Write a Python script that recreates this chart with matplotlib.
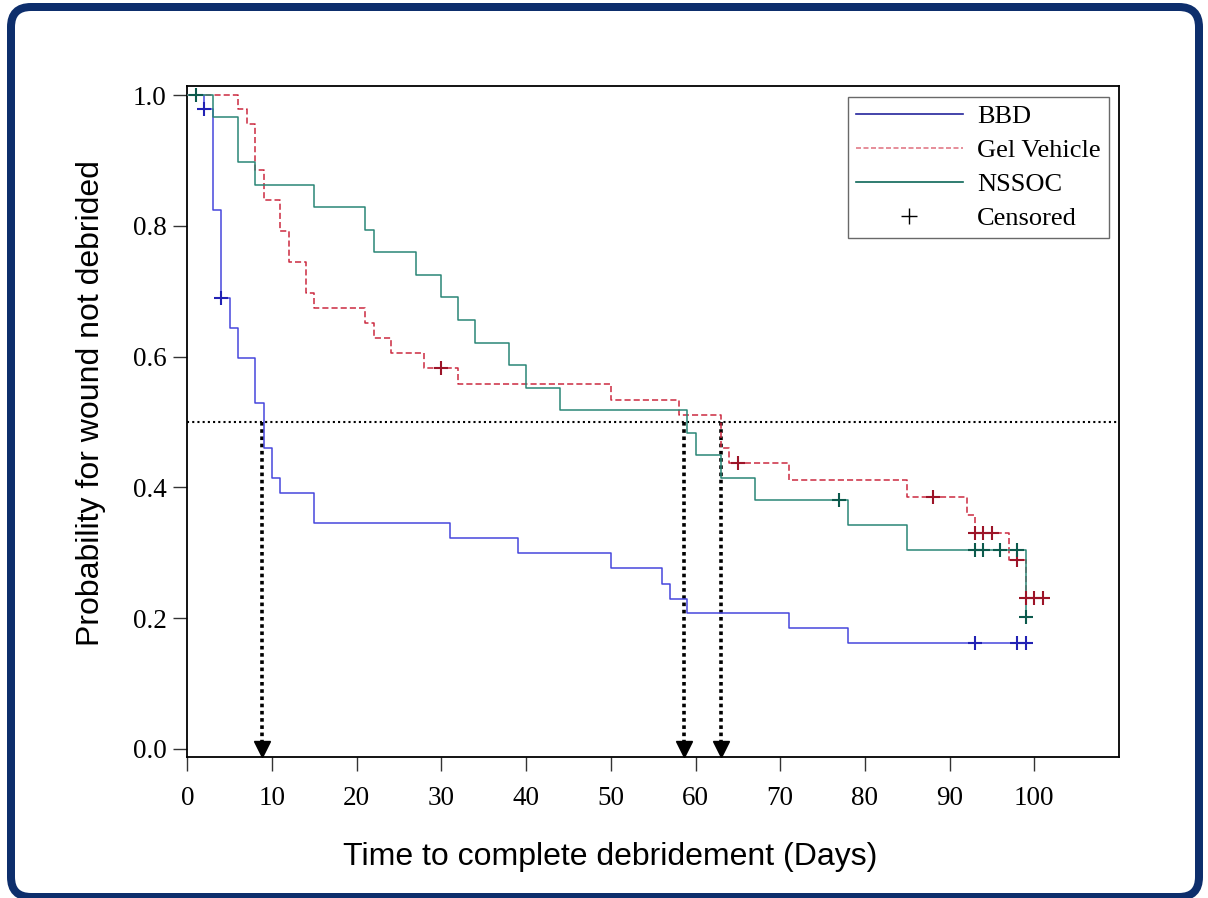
import numpy as np
import matplotlib
matplotlib.use("Agg")
import matplotlib.pyplot as plt
from matplotlib.lines import Line2D
from matplotlib.patches import FancyBboxPatch
from matplotlib.transforms import IdentityTransform

# ---------------- data ----------------
groups = ["BBD", "Gel Vehicle", "NSSOC"]

bbd_times = [0, 2, 3, 4, 5, 6, 8, 9, 10, 11, 15, 31, 39, 50, 56, 57, 59, 71, 78]
bbd_surv = [1.0, 0.979, 0.824, 0.690, 0.644, 0.598, 0.529, 0.460, 0.414, 0.391,
            0.345, 0.322, 0.299, 0.276, 0.253, 0.230, 0.208, 0.185, 0.162]
bbd_end = 99
bbd_censor = [2, 4, 93, 98, 99]

gel_times = [0, 6, 7, 8, 9, 11, 12, 14, 15, 21, 22, 24, 28, 32, 50, 58, 63, 64,
             71, 85, 92, 93, 97, 99]
gel_surv = [1.0, 0.978, 0.955, 0.885, 0.839, 0.792, 0.745, 0.698, 0.675, 0.652,
            0.628, 0.605, 0.582, 0.558, 0.534, 0.510, 0.461, 0.437, 0.412, 0.385,
            0.358, 0.330, 0.289, 0.231]
gel_end = 101
gel_censor = [30, 65, 88, 93, 94, 95, 98, 99, 100, 101]

nss_times = [0, 3, 6, 8, 15, 21, 22, 27, 30, 32, 34, 38, 40, 44, 59, 60, 63, 67,
             78, 85, 99]
nss_surv = [1.0, 0.967, 0.898, 0.863, 0.829, 0.794, 0.760, 0.725, 0.691, 0.656,
            0.621, 0.587, 0.552, 0.518, 0.483, 0.449, 0.414, 0.380, 0.342, 0.304,
            0.202]
nss_end = 99
nss_censor = [1, 77, 93, 94, 96, 98, 99]

median_level = 0.5
median_times = [8.85, 58.6, 63.0]

x_ticks = [0, 10, 20, 30, 40, 50, 60, 70, 80, 90, 100]
y_ticks = [0.0, 0.2, 0.4, 0.6, 0.8, 1.0]

# ---------------- figure ----------------
W, H = 1208, 898
fig = plt.figure(figsize=(W / 100, H / 100), dpi=100)
fig.patch.set_facecolor("white")

ax_l, ax_r, ax_t, ax_b = 187.3, 1119, 86, 757.3
ax = fig.add_axes([ax_l / W, (H - ax_b) / H, (ax_r - ax_l) / W, (ax_b - ax_t) / H])
ax.set_xlim(0, 110)
ax.set_ylim(-0.0127, 1.0138)

serif = ["Liberation Serif", "DejaVu Serif"]
sans = ["Liberation Sans", "DejaVu Sans"]

line_cols = {"BBD": "#4646dc", "Gel Vehicle": "#cc2a40", "NSSOC": "#2a8676"}
leg_cols = {"BBD": "#24249c", "Gel Vehicle": "#e27a88", "NSSOC": "#0c6658"}
cen_cols = {"BBD": "#2222b4", "Gel Vehicle": "#9c1428", "NSSOC": "#0c5a4c"}
styles = {"BBD": "-", "Gel Vehicle": (0, (4, 2)), "NSSOC": "-"}

data = {
    "BBD": (bbd_times, bbd_surv, bbd_end, bbd_censor),
    "Gel Vehicle": (gel_times, gel_surv, gel_end, gel_censor),
    "NSSOC": (nss_times, nss_surv, nss_end, nss_censor),
}

for g in groups:
    t, s, end, cen = data[g]
    tt = list(t) + [end]
    ss = list(s) + [s[-1]]
    ax.step(tt, ss, where="post", color=line_cols[g], lw=1.1, ls=styles[g], zorder=3)
    t_arr = np.array(t)
    s_arr = np.array(s)
    idx = np.searchsorted(t_arr, np.array(cen), side="right") - 1
    ax.plot(cen, s_arr[idx], ls="none", marker="+", ms=10, mew=1.5,
            color=cen_cols[g], zorder=4)

# median reference lines
ax.axhline(median_level, color="black", ls=(0, (1, 1.5)), lw=1.5, zorder=2)
for mt in median_times:
    ax.plot([mt, mt], [median_level, 0.01], color="black", ls=(0, (1, 1)), lw=2.6,
            zorder=2)
    ax.plot([mt], [0.0], marker="v", ms=11.5, color="black", ls="none",
            clip_on=False, zorder=5)

# axes styling
ax.set_xticks(x_ticks)
ax.set_yticks(y_ticks)
ax.set_xticklabels([str(v) for v in x_ticks], fontfamily=serif, fontsize=19.5)
ax.set_yticklabels([f"{v:.1f}" for v in y_ticks], fontfamily=serif, fontsize=19.5)
ax.tick_params(axis="both", direction="out", length=10, width=1.0, color="#333333")
ax.tick_params(axis="x", pad=11)
ax.tick_params(axis="y", pad=5)
for sp in ax.spines.values():
    sp.set_linewidth(1.3)
    sp.set_color("black")

fig.text(610 / W, 1 - 857 / H, "Time to complete debridement (Days)",
         fontfamily=sans, fontsize=23, ha="center", va="center")
fig.text(91 / W, 1 - 403 / H, "Probability for wound not debrided",
         fontfamily=sans, fontsize=23, ha="center", va="center", rotation=90)

# legend
handles = [
    Line2D([], [], color=leg_cols["BBD"], lw=1.2, ls="-"),
    Line2D([], [], color=leg_cols["Gel Vehicle"], lw=1.2, ls=(0, (3, 1.5))),
    Line2D([], [], color=leg_cols["NSSOC"], lw=1.2, ls="-"),
    Line2D([], [], color="black", ls="none", marker="+", ms=11, mew=1.0),
]
labels = groups + ["Censored"]
leg = ax.legend(handles, labels, loc="upper left",
                bbox_to_anchor=(848 / W, 1 - 97 / H), bbox_transform=fig.transFigure,
                borderaxespad=0, prop={"family": serif, "size": 19},
                handlelength=4.05, handletextpad=0.55, labelspacing=0.4,
                borderpad=0.3, frameon=True, fancybox=False)
leg.get_frame().set_edgecolor("#444444")
leg.get_frame().set_linewidth(1.0)

# rounded border
border = FancyBboxPatch((11, 1), 1188, 890,
                        boxstyle="round,pad=0,rounding_size=20",
                        transform=IdentityTransform(), facecolor="none",
                        edgecolor="#0d2e6c", lw=8 * 72 / 100, zorder=10)
fig.patches.append(border)

fig.savefig("out.png", dpi=100)
